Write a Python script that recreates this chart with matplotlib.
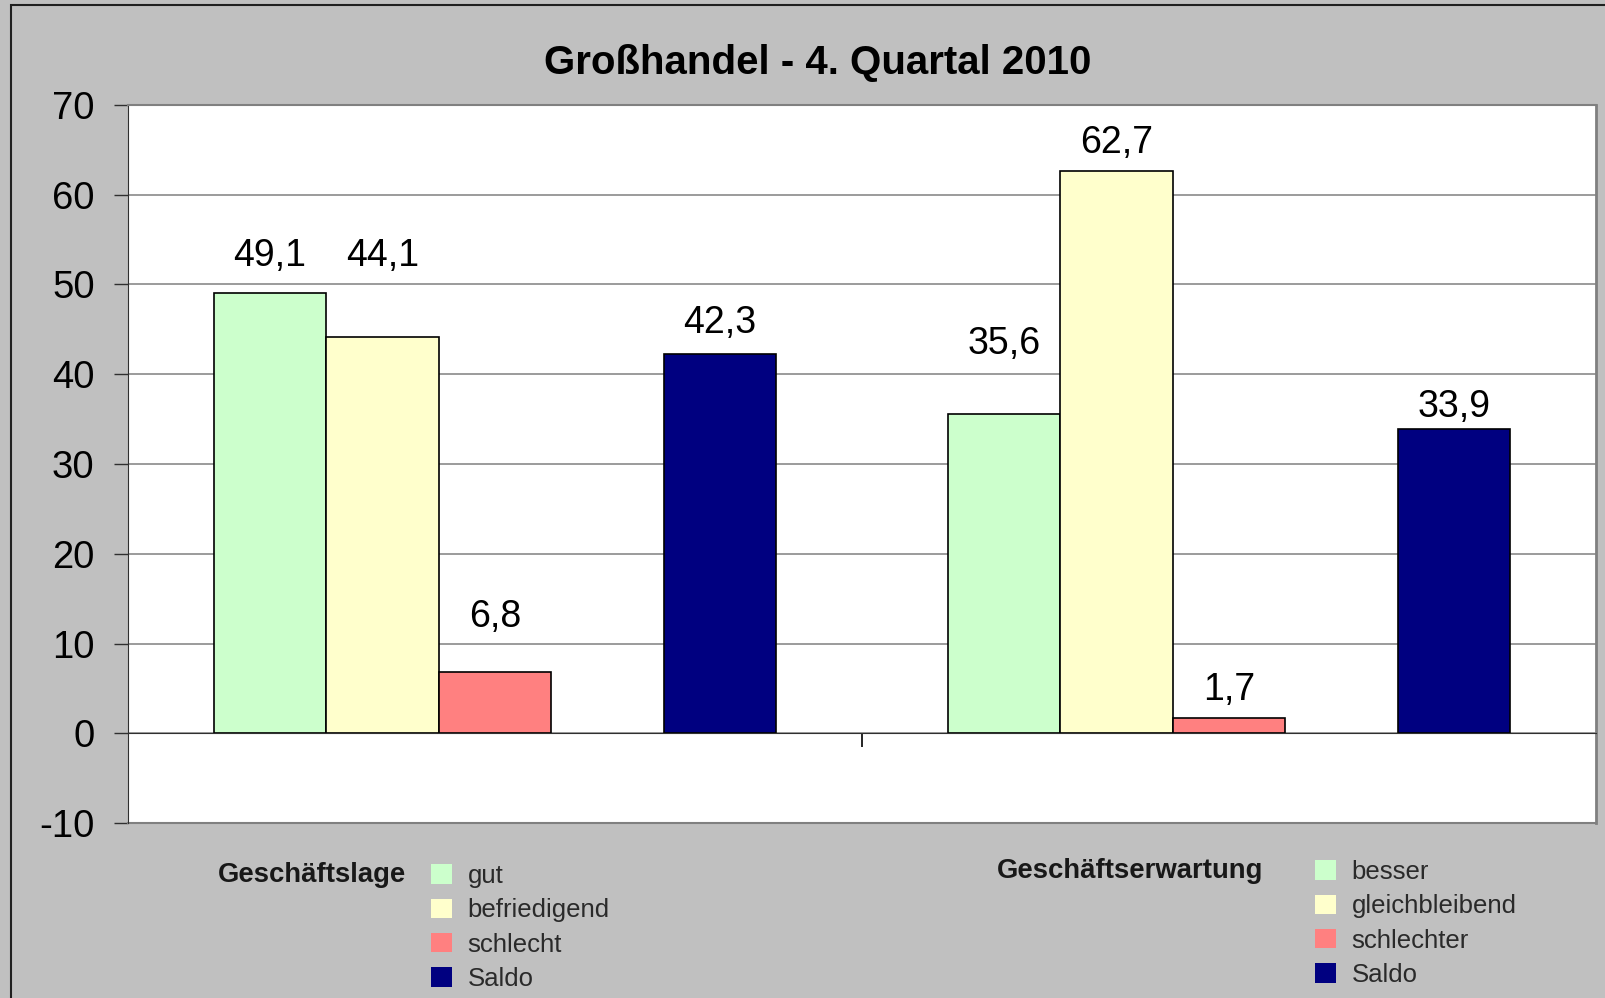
import matplotlib
matplotlib.use('Agg')
import matplotlib.pyplot as plt
from matplotlib.patches import Patch, Rectangle
import numpy as np

plt.rcParams['font.family'] = ['Liberation Sans', 'DejaVu Sans']
plt.rcParams['axes.unicode_minus'] = False

# data
gruppen = ['Geschäftslage', 'Geschäftserwartung']
serien_lage = ['gut', 'befriedigend', 'schlecht', 'Saldo']
serien_erw = ['besser', 'gleichbleibend', 'schlechter', 'Saldo']
werte_lage = [49.1, 44.1, 6.8, 42.3]
werte_erw = [35.6, 62.7, 1.7, 33.9]
farben = ['#ccffcc', '#ffffcc', '#ff8080', '#000080']
# label lift above bar (hand placed in the original)
lift_lage = [4.1, 9.1, 6.1, 3.4]
lift_erw = [7.8, 3.1, 3.1, 2.4]

slots = [0, 1, 2, 4]   # one empty slot before Saldo
w = 0.1533

fig = plt.figure(figsize=(16.05, 9.98), dpi=100)
fig.patch.set_facecolor('#c0c0c0')
# outer frame of the chart object
fig.patches.append(Rectangle((11 / 1605, -0.1), 1.2, 1 - 5.5 / 998 + 0.1,
                             transform=fig.transFigure, fill=False,
                             edgecolor='#202020', linewidth=1.5))

ax = fig.add_axes([128 / 1605, 175 / 998, 1468 / 1605, 718 / 998])
ax.set_facecolor('white')

for g, (werte, lifts) in enumerate([(werte_lage, lift_lage), (werte_erw, lift_erw)]):
    mitte = g + 0.5
    for k in range(4):
        x = mitte + (slots[k] - 2) * w
        ax.bar(x, werte[k], width=w, color=farben[k], edgecolor='black',
               linewidth=1.2, zorder=3)
        ax.text(x, werte[k] + lifts[k], f'{werte[k]:.1f}'.replace('.', ','),
                ha='center', va='center', fontsize=27, zorder=4)

ax.set_xlim(0, 2)
ax.set_ylim(-10, 70)
ax.set_yticks(np.arange(-10, 71, 10))
ax.yaxis.grid(True, color='#808080', linewidth=1.1, zorder=0)
ax.set_axisbelow(True)
ax.tick_params(axis='y', labelsize=27.5, length=10, width=1, pad=14, color='#303030')

ax.spines['bottom'].set_position(('data', 0))
ax.spines['bottom'].set_color('#303030')
ax.spines['bottom'].set_zorder(3)
ax.set_xticks([1])
ax.set_xticklabels([])
ax.tick_params(axis='x', length=10, width=1.2, color='black')
ax.spines['left'].set_color('#303030')
ax.spines['top'].set_color('#808080')
ax.spines['top'].set_linewidth(1.5)
ax.spines['right'].set_color('#808080')
ax.spines['right'].set_linewidth(2)
ax.axhline(-10, color='#808080', linewidth=1.5, clip_on=False)

fig.text(818 / 1605, 1 - 63 / 998, 'Großhandel - 4. Quartal 2010',
         ha='center', va='center', fontsize=29, fontweight='bold')

# legends, one per group
for titel, namen, tx, ty, lx, ly in [(gruppen[0], serien_lage, 218, 875, 431, 864),
                                     (gruppen[1], serien_erw, 997, 871, 1315, 860)]:
    fig.text(tx / 1605, 1 - ty / 998, titel, ha='left', va='center',
             fontsize=19.8, fontweight='bold', color='#181818')
    handles = [Patch(facecolor=c, edgecolor='none') for c in farben]
    leg = fig.legend(handles, namen, loc='upper left',
                     bbox_to_anchor=(lx / 1605, 1 - ly / 998),
                     frameon=False, fontsize=18.5, handlelength=0.8,
                     handleheight=0.8, handletextpad=0.62, labelspacing=0.4,
                     borderpad=0, borderaxespad=0)
    for t in leg.get_texts():
        t.set_color('#2a2a2a')

fig.savefig('out.png', dpi=100, facecolor=fig.get_facecolor())
